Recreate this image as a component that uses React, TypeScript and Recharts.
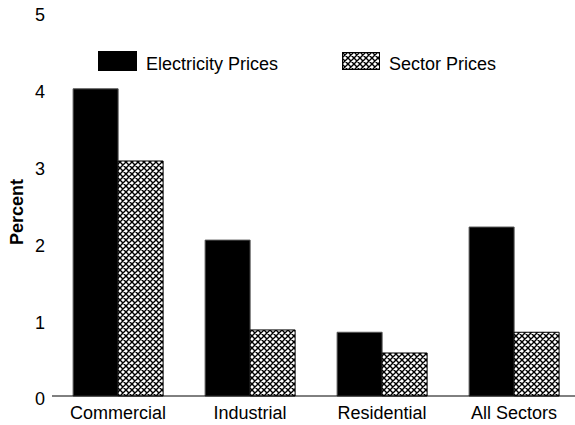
import { BarChart, Bar, XAxis, YAxis, Legend } from 'recharts';

const sectors = ['Commercial', 'Industrial', 'Residential', 'All Sectors'];
const electricityPrices = [4.0, 2.03, 0.83, 2.2];
const sectorPrices = [3.06, 0.86, 0.56, 0.83];
const yTicks = [0, 1, 2, 3, 4, 5];

const data = sectors.map((name, i) => ({
  name,
  electricity: electricityPrices[i],
  sector: sectorPrices[i],
}));

const FONT = 'Liberation Sans, Arial, sans-serif';

function HatchDef({ id }: { id: string }) {
  return (
    <pattern id={id} patternUnits="userSpaceOnUse" width={6} height={6}>
      <rect width={6} height={6} fill="#fff" />
      <path d="M0,0 L6,6 M6,0 L0,6 M-1,5 L1,7 M5,-1 L7,1" stroke="#000" strokeWidth={1.4} />
    </pattern>
  );
}

function LegendBox() {
  return (
    <div style={{ position: 'relative', height: 24, fontFamily: FONT, fontSize: 18, color: '#000' }}>
      <svg width={40} height={20} style={{ position: 'absolute', left: 98, top: 0 }}>
        <rect x={0} y={0} width={39} height={20} fill="#000" />
      </svg>
      <span style={{ position: 'absolute', left: 146, top: 2, lineHeight: '22px' }}>Electricity Prices</span>
      <svg width={39} height={20} style={{ position: 'absolute', left: 342, top: 1 }}>
        <defs>
          <HatchDef id="hatchLegend" />
        </defs>
        <rect x={0.5} y={0.5} width={37} height={17} fill="url(#hatchLegend)" stroke="#000" strokeWidth={1} />
      </svg>
      <span style={{ position: 'absolute', left: 389, top: 2, lineHeight: '22px' }}>Sector Prices</span>
    </div>
  );
}

export default function App() {
  return (
    <div style={{ position: 'absolute', left: 0, top: 0, width: 575, height: 425, overflow: 'hidden', background: '#fff' }}>
      <BarChart
        width={580}
        height={425}
        data={data}
        margin={{ top: 12, right: 0, bottom: 0, left: 0 }}
        barCategoryGap="16%"
        barGap={0}
      >
        <defs>
          <HatchDef id="hatchBar" />
        </defs>
        <XAxis
          dataKey="name"
          height={29}
          axisLine={{ stroke: '#000', strokeWidth: 1 }}
          tickLine={false}
          tickSize={0}
          tickMargin={10}
          tick={{ fill: '#000', fontSize: 18, fontFamily: FONT }}
          interval={0}
        />
        <YAxis
          width={52}
          domain={[0, 5]}
          ticks={yTicks}
          axisLine={false}
          tickLine={false}
          tickSize={0}
          tickMargin={7}
          tick={{ fill: '#000', fontSize: 18, fontFamily: FONT, dy: 3 }}
          label={{
            value: 'Percent',
            angle: -90,
            position: 'insideLeft',
            offset: 0,
            dx: 17,
            dy: 8,
            style: { fill: '#000', fontSize: 18, fontWeight: 'bold', fontFamily: FONT, textAnchor: 'middle' },
          }}
        />
        <Legend
          layout="horizontal"
          verticalAlign="middle"
          align="center"
          content={() => <LegendBox />}
          wrapperStyle={{ position: 'absolute', top: 51, left: 0, width: 580 }}
        />
        <Bar dataKey="electricity" name="Electricity Prices" fill="#000" stroke="#555" strokeWidth={1} isAnimationActive={false} />
        <Bar dataKey="sector" name="Sector Prices" fill="url(#hatchBar)" stroke="#000" strokeWidth={1} isAnimationActive={false} />
      </BarChart>
    </div>
  );
}
